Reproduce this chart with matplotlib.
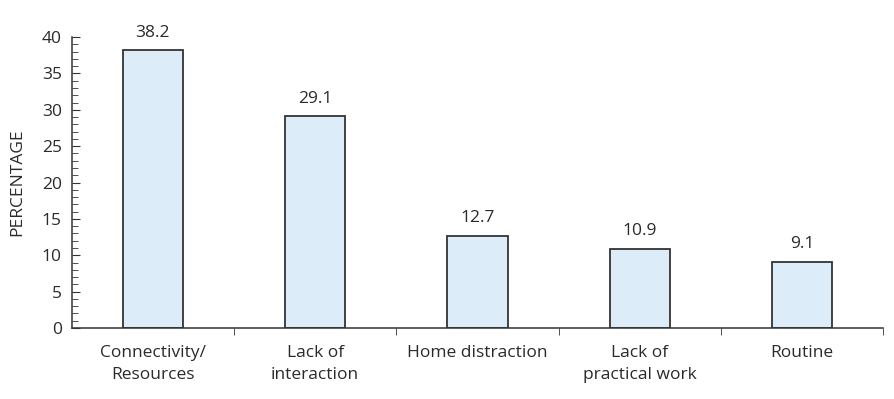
import matplotlib
matplotlib.use("Agg")
import matplotlib.pyplot as plt
from matplotlib.ticker import MultipleLocator, FixedLocator, NullFormatter

categories = ["Connectivity/\nResources", "Lack of\ninteraction", "Home distraction",
              "Lack of\npractical work", "Routine"]
values = [38.2, 29.1, 12.7, 10.9, 9.1]

plt.rcParams['font.family'] = ['Open Sans', 'DejaVu Sans']
FS = 12.5
TXT = "#2a2a2a"

fig = plt.figure(figsize=(8.95, 3.99), dpi=100)
ax = fig.add_axes([0.080, 0.178, 0.907, 0.729])

x = list(range(len(categories)))
ax.bar(x, values, width=0.37, color="#dcecf8", edgecolor="#333333", linewidth=1.3)
for xi, v in zip(x, values):
    ax.text(xi, v + 1.3, f"{v}", ha="center", va="bottom", fontsize=FS, color=TXT)

ax.set_xlim(-0.5, len(categories) - 0.5)
ax.set_ylim(0, 40)
ax.spines['top'].set_visible(False)
ax.spines['right'].set_visible(False)
ax.spines['left'].set_color("#333333")
ax.spines['bottom'].set_color("#333333")
ax.spines['left'].set_linewidth(1.1)
ax.spines['bottom'].set_linewidth(1.1)

ax.yaxis.set_major_locator(MultipleLocator(5))
ax.yaxis.set_minor_locator(MultipleLocator(1))
ax.tick_params(axis='y', which='major', direction='in', length=6, pad=7,
               labelsize=FS, colors=TXT, color="#333333")
ax.tick_params(axis='y', which='minor', direction='in', length=4, color="#333333")

ax.set_xticks(x)
ax.set_xticklabels(categories, fontsize=FS, color=TXT, linespacing=1.5)
ax.tick_params(axis='x', which='major', length=0, pad=12)
ax.xaxis.set_minor_locator(FixedLocator([i + 0.5 for i in range(len(categories))]))
ax.xaxis.set_minor_formatter(NullFormatter())
ax.tick_params(axis='x', which='minor', direction='out', length=5, color="#333333")

fig.text(17 / 895, 1 - 182.5 / 399, "PERCENTAGE", rotation=90, ha="center", va="center",
         fontsize=FS, color=TXT)

fig.savefig("out.png", dpi=100)
